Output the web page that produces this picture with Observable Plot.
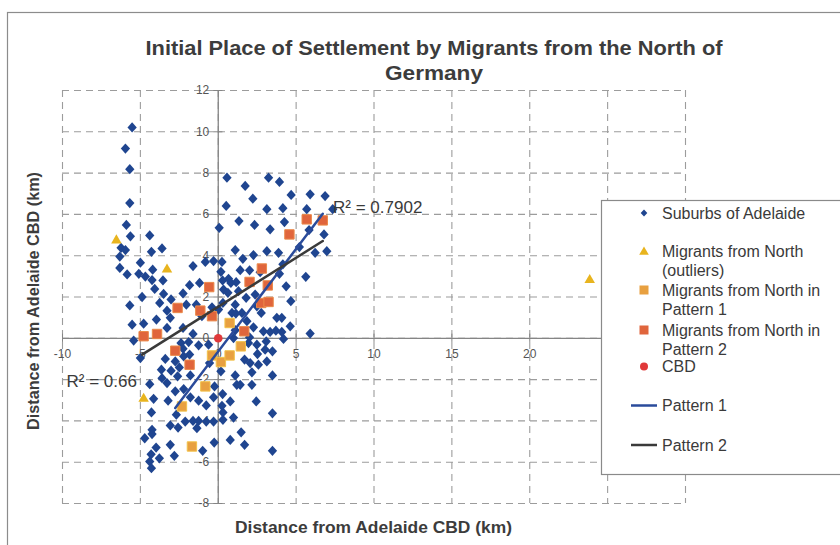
<!DOCTYPE html>
<html>
<head>
<meta charset="utf-8">
<script src="https://cdn.jsdelivr.net/npm/d3@7"></script>
<script src="https://cdn.jsdelivr.net/npm/@observablehq/plot@0.6"></script>
<style>
  html, body { margin: 0; padding: 0; background: #fff; }
  #wrap { position: relative; width: 840px; height: 545px; overflow: hidden; background: #fff; }
  #chart, #overlay { position: absolute; left: 0; top: 0; }
  text { font-family: "Liberation Sans", Arial, sans-serif; }
</style>
</head>
<body>
<div id="wrap">
  <div id="chart"></div>
  <svg id="overlay" width="840" height="545"></svg>
</div>
<script>
// ---------------- data ----------------
const titleLines = ["Initial Place of Settlement by Migrants from the North of", "Germany"];
const xAxisTitle = "Distance from Adelaide CBD (km)";
const yAxisTitle = "Distance from Adelaide CBD (km)";

const xGrid = [-10, -5, 0, 5, 10, 15, 20, 25, 30];
const yGrid = [-8, -6, -4, -2, 0, 2, 4, 6, 8, 10, 12];
const xTickLabels = [-10, -5, 0, 5, 10, 15, 20, 25];
const yTickLabels = [-8, -6, -4, -2, 0, 2, 4, 6, 8, 10, 12];

const suburbs = [
  [-5.53,10.21],[-5.96,9.19],[-5.68,8.19],[-5.68,6.55],[-5.9,5.49],[-5.64,4.94],[-6.24,4.38],[-5.96,4.27],
  [-6.32,3.96],[-6.32,3.41],[-5.85,3.09],[-5.68,1.59],[-5.0,3.66],[-5.1,3.12],[-4.68,2.99],[-4.4,4.98],
  [-4.29,4.19],[-3.61,4.35],[-4.21,3.32],[-4.25,2.82],[-4.08,2.39],[-3.55,2.8],[-3.51,2.15],[-4.89,2.0],
  [-3.76,1.71],[-3.03,1.88],[-3.29,1.34],[-3.08,0.99],[-3.97,0.91],[-2.26,2.17],[-1.84,2.57],[-1.62,3.5],
  [-1.2,2.68],[-0.83,3.7],[-0.3,3.74],[-2.05,1.63],[-1.41,1.63],[-0.4,1.5],[-1.05,1.07],
  [0.06,5.35],[0.56,7.78],[0.51,6.41],[1.73,7.38],[2.22,6.76],[3.23,7.78],[3.93,7.57],[4.68,6.94],
  [5.9,6.97],[6.86,6.89],[7.35,6.25],[3.12,6.25],[4.15,6.3],[5.68,6.25],[1.33,5.68],[2.33,5.49],
  [3.33,5.28],[4.25,5.63],[5.83,5.24],[6.79,5.03],[1.09,4.27],[2.26,4.03],[3.12,4.22],[3.87,4.14],
  [5.21,4.42],[6.22,4.14],[6.97,4.22],[1.58,3.85],[0.24,3.7],[0.17,3.22],[0.28,2.8],[0.66,2.88],
  [0.81,2.68],[1.15,2.72],[0.34,2.36],[0.62,2.2],[1.41,3.3],[2.01,3.29],[2.69,3.2],[3.93,3.12],
  [4.15,3.58],[4.36,2.52],[4.66,1.8],[5.62,2.98],[1.3,2.28],[1.79,1.96],[2.37,2.12],[2.48,1.55],
  [2.76,1.23],[1.09,1.63],[0.88,1.23],[1.52,1.23],[3.76,0.99],[4.08,0.99],[0.3,1.71],[0.02,1.39],
  [-5.53,0.66],[-5.43,-0.11],[-4.79,0.71],[-3.29,0.5],[-2.26,0.5],[-1.62,0.21],[-2.39,-0.23],[-1.9,-0.18],
  [-1.26,-0.34],[-0.62,-0.31],[-2.26,-0.5],[-1.84,-0.79],[-2.22,-0.87],[-5.0,-0.96],[-3.4,-1.0],[-2.76,-1.12],
  [-3.65,-1.52],[-3.03,-1.57],[-2.5,-1.41],[-1.79,-1.8],[-2.61,-1.84],[-3.61,-1.93],[-3.29,-2.17],[-4.4,-2.22],
  [-2.76,-2.57],[-2.22,-2.46],[-3.22,-3.02],[-1.79,-2.86],[-1.26,-3.02],[-0.77,-3.25],[-0.3,-2.86],[-0.24,-2.33],
  [-4.15,-2.93],[-4.29,-3.59],[-2.69,-3.7],[-2.12,-4.03],[-1.62,-4.0],[-1.26,-4.0],[-0.77,-4.03],[-0.3,-4.03],
  [-3.08,-4.22],[-2.58,-4.32],[-1.37,-4.35],[-4.25,-4.43],[-4.25,-4.64],[-4.72,-4.84],[-3.08,-5.16],[-3.99,-5.29],
  [-4.31,-5.62],[-3.78,-5.81],[-2.82,-5.69],[-1.0,-5.45],[-0.26,-5.05],[-4.4,-5.97],[-4.29,-6.29],
  [0.17,-1.6],[0.28,-2.7],[0.77,-3.06],[0.3,-3.59],[0.3,-3.95],[0.98,-3.84],[0.77,-4.92],[1.47,-4.55],
  [1.69,-5.16],[2.44,-3.06],[3.48,-3.63],[3.48,-5.45],[2.16,-2.25],[1.19,-2.25],[1.41,-2.25],[1.09,-1.8],
  [2.16,-1.65],[2.58,-1.28],[3.48,-1.8],[1.69,-1.03],[2.05,-1.2],[3.12,-1.12],[1.94,-0.23],[2.48,-0.31],
  [2.52,-0.76],[3.01,-0.55],[3.48,-0.63],[3.08,-0.15],[2.9,0.34],[3.33,0.31],[4.19,-0.03],[4.08,0.31],
  [3.7,0.37],[4.62,0.58],[5.9,0.23],[2.26,0.53],[1.84,0.83],[1.09,0.39],[0.98,0.01],[2.01,0.05],
  [1.13,1.2],[-0.56,-1.2],[0.24,-3.27]
];
const outliers = [[-6.54,4.74],[-3.29,3.33],[-4.79,-2.93],[23.85,2.82]];
const pattern1Pts = [[0.73,0.74],[-0.4,-0.83],[0.17,-1.15],[0.73,-0.83],[1.45,-0.39],[-0.83,-2.33],[-2.33,-3.3],[-1.69,-5.24]];
const pattern2Pts = [[-4.79,0.1],[-3.93,0.21],[-2.76,-0.6],[-1.84,-1.28],[1.67,0.34],[-2.61,1.47],[-1.15,1.34],
  [-0.4,1.07],[-0.58,2.48],[2.01,2.73],[2.8,3.38],[3.18,2.56],[2.76,1.71],[3.23,1.76],[4.57,5.03],[5.68,5.76],[6.71,5.71]];
const cbd = [[0,0]];
const pattern1Line = [[-2.76,-3.38],[6.71,6.03]];
const pattern2Line = [[-4.89,-0.79],[6.71,4.71]];
const r2Labels = [{text:"R² = 0.7902", x:7.37, y:6.31}, {text:"R² = 0.66", x:-9.74, y:-2.09}];

const legendItems = [
  {type:"diamond", color:"#1f4590", lines:["Suburbs of Adelaide"]},
  {type:"triangle", color:"#e8b41e", lines:["Migrants from North", "(outliers)"]},
  {type:"square1", color:"#e8a040", lines:["Migrants from North in", "Pattern 1"]},
  {type:"square2", color:"#e0653c", lines:["Migrants from North in", "Pattern 2"]},
  {type:"circle", color:"#e0393a", lines:["CBD"]},
  {type:"line", color:"#2a4b9b", lines:["Pattern 1"]},
  {type:"line", color:"#3a3a3a", lines:["Pattern 2"]}
];

// ---------------- chart ----------------
const diamondSym = {
  draw(ctx, size) {
    const r = Math.sqrt(size / 2);
    ctx.moveTo(0, -r * 1.05); ctx.lineTo(r * 0.95, 0); ctx.lineTo(0, r * 1.05); ctx.lineTo(-r * 0.95, 0); ctx.closePath();
  }
};
const gridColor = "#9c9c9c";
const axisColor = "#858585";
const font = "'Liberation Sans Narrow','Liberation Sans',Arial,sans-serif";

const chart = Plot.plot({
  width: 840, height: 545,
  marginLeft: 62, marginRight: 155, marginTop: 90, marginBottom: 42,
  x: {domain: [-10, 30], axis: null},
  y: {domain: [-8, 12], axis: null},
  style: {background: "transparent", fontFamily: font},
  marks: [
    Plot.ruleX(xGrid, {x: d => d, stroke: gridColor, strokeDasharray: "7,5", strokeWidth: 1.1}),
    Plot.ruleY(yGrid, {y: d => d, stroke: gridColor, strokeDasharray: "7,5", strokeWidth: 1.1}),
    Plot.ruleY([0], {stroke: axisColor, strokeWidth: 1.3}),
    Plot.ruleX([0], {stroke: axisColor, strokeWidth: 1.3}),
    Plot.ruleX(xGrid, {x: d => d, y1: -0.2, y2: 0.2, stroke: axisColor}),
    Plot.ruleY(yGrid, {y: d => d, x1: -0.3, x2: 0.3, stroke: axisColor}),
    Plot.text(xTickLabels, {x: d => d, y: 0, dy: 16, text: d => String(d), fontSize: 12, fill: "#555"}),
    Plot.text(yTickLabels, {x: 0, y: d => d, dx: -9, textAnchor: "end", text: d => String(d), fontSize: 12, fill: "#555"}),
    Plot.dot(suburbs, {x: d => d[0], y: d => d[1], symbol: diamondSym, r: 3.9, fill: "#1f4590", stroke: "none"}),
    Plot.dot(outliers, {x: d => d[0], y: d => d[1], symbol: "triangle", r: 3.9, fill: "#e8b41e", stroke: "none"}),
    Plot.dot(pattern1Pts, {x: d => d[0], y: d => d[1], symbol: "square", r: 5.3, fill: "#e8a040", stroke: "#f2c24a", strokeWidth: 1}),
    Plot.dot(pattern2Pts, {x: d => d[0], y: d => d[1], symbol: "square", r: 5.3, fill: "#e0653c", stroke: "#eb8a4a", strokeWidth: 1}),
    Plot.dot(cbd, {x: d => d[0], y: d => d[1], r: 4.3, fill: "#e0393a", stroke: "none"}),
    Plot.line(pattern1Line, {x: d => d[0], y: d => d[1], stroke: "#2a4b9b", strokeWidth: 2.5}),
    Plot.line(pattern2Line, {x: d => d[0], y: d => d[1], stroke: "#3a3a3a", strokeWidth: 2.5}),
    Plot.text(r2Labels, {x: "x", y: "y", text: "text", textAnchor: "start", fontSize: 17, fill: "#3a3a3a", fontFamily: "'Liberation Sans',Arial,sans-serif"})
  ]
});
document.getElementById("chart").appendChild(chart);

// ---------------- overlay: frame, titles, legend ----------------
const ov = d3.select("#overlay");
ov.append("rect").attr("x", 7.5).attr("y", 12.5).attr("width", 840).attr("height", 560)
  .attr("fill", "none").attr("stroke", "#8c8c8c").attr("stroke-width", 1.2);

const tcol = "#3c3c3c";
ov.append("text").attr("x", 434).attr("y", 54.5).attr("text-anchor", "middle")
  .attr("font-weight", "bold").attr("font-size", 21).attr("fill", tcol)
  .attr("textLength", 577).attr("lengthAdjust", "spacingAndGlyphs").text(titleLines[0]);
ov.append("text").attr("x", 434).attr("y", 79.5).attr("text-anchor", "middle")
  .attr("font-weight", "bold").attr("font-size", 21).attr("fill", tcol)
  .attr("textLength", 98).attr("lengthAdjust", "spacingAndGlyphs").text(titleLines[1]);
ov.append("text").attr("x", 373.5).attr("y", 533).attr("text-anchor", "middle")
  .attr("font-weight", "bold").attr("font-size", 16.5).attr("fill", tcol)
  .attr("textLength", 277).attr("lengthAdjust", "spacingAndGlyphs").text(xAxisTitle);
ov.append("text").attr("transform", "translate(39,301) rotate(-90)").attr("text-anchor", "middle")
  .attr("font-weight", "bold").attr("font-size", 16.5).attr("fill", tcol)
  .attr("textLength", 258).attr("lengthAdjust", "spacingAndGlyphs").text(yAxisTitle);

// legend
const lg = ov.append("g");
lg.append("rect").attr("x", 601.5).attr("y", 200.5).attr("width", 260).attr("height", 274)
  .attr("fill", "#fff").attr("stroke", "#8a8a8a").attr("stroke-width", 1.2);
const itemY = [213, 251, 290, 330, 366.5, 405.5, 445];
legendItems.forEach((it, i) => {
  const cy = itemY[i], cx = 644;
  if (it.type === "diamond") {
    lg.append("path").attr("d", `M${cx},${cy-3.6}L${cx+3.3},${cy}L${cx},${cy+3.6}L${cx-3.3},${cy}Z`).attr("fill", it.color);
  } else if (it.type === "triangle") {
    lg.append("path").attr("d", `M${cx},${cy-4.5}L${cx+4.8},${cy+3.8}L${cx-4.8},${cy+3.8}Z`).attr("fill", it.color);
  } else if (it.type === "square1" || it.type === "square2") {
    lg.append("rect").attr("x", cx - 4.5).attr("y", cy - 4.5).attr("width", 9).attr("height", 9).attr("fill", it.color);
  } else if (it.type === "circle") {
    lg.append("circle").attr("cx", cx).attr("cy", cy).attr("r", 4).attr("fill", it.color);
  } else {
    lg.append("line").attr("x1", 631).attr("x2", 657).attr("y1", cy).attr("y2", cy)
      .attr("stroke", it.color).attr("stroke-width", 2.5);
  }
  it.lines.forEach((t, j) => {
    lg.append("text").attr("x", 662).attr("y", cy + j * 19.5).attr("dy", "0.36em")
      .attr("font-size", 16).attr("fill", "#3a3a3a").text(t);
  });
});
</script>
</body>
</html>
